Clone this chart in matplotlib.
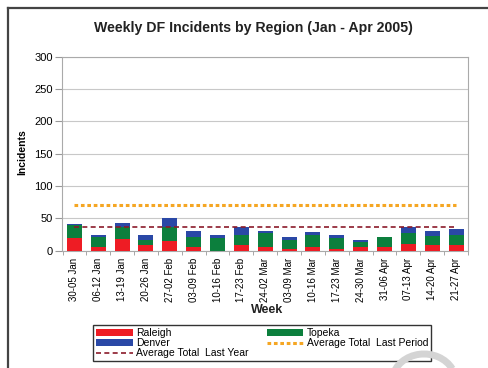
import matplotlib
matplotlib.use("Agg")
import matplotlib.pyplot as plt
import numpy as np
from matplotlib.lines import Line2D
from matplotlib.patches import Arc
from matplotlib.transforms import IdentityTransform

plt.rcParams['font.family'] = ['Liberation Sans', 'DejaVu Sans']

weeks = ['30-05 Jan', '06-12 Jan', '13-19 Jan', '20-26 Jan', '27-02 Feb',
         '03-09 Feb', '10-16 Feb', '17-23 Feb', '24-02 Mar', '03-09 Mar',
         '10-16 Mar', '17-23 Mar', '24-30 Mar', '31-06 Apr', '07-13 Apr',
         '14-20 Apr', '21-27 Apr']
raleigh = [19, 6, 18, 9, 15, 6, 0, 9, 5, 2, 5, 3, 6, 5, 11, 9, 9]
topeka = [20, 15, 18, 8, 22, 15, 19, 15, 23, 15, 19, 16, 7, 16, 16, 14, 15]
denver = [2, 4, 7, 8, 13, 10, 6, 12, 3, 4, 5, 6, 4, 0, 10, 7, 9]
avg_last_period = 70
avg_last_year = 36

RED = '#ee1c24'
GREEN = '#0c7f3d'
BLUE = '#2a48a6'
ORANGE = '#f5a623'
DARK_RED = '#8b1a2a'

W, H = 488, 368
fig = plt.figure(figsize=(W / 100, H / 100), dpi=100)
ax = fig.add_axes([62.5 / W, 1 - 250.7 / H, (468 - 62.5) / W, (250.7 - 56.7) / H])

x = np.arange(len(weeks))
bw = 0.63
r = np.array(raleigh)
t = np.array(topeka)
d = np.array(denver)
ax.bar(x, r, bw, color=RED, label='Raleigh', zorder=3)
ax.bar(x, t, bw, bottom=r, color=GREEN, label='Topeka', zorder=3)
ax.bar(x, d, bw, bottom=r + t, color=BLUE, label='Denver', zorder=3)

ax.plot(x, [avg_last_period] * len(x), color=ORANGE, lw=2.2,
        linestyle=(0, (1.2, 0.9)), label='Average Total  Last Period', zorder=4)
ax.plot(x, [avg_last_year] * len(x), color=DARK_RED, lw=1.2,
        linestyle=(0, (3, 2)), label='Average Total  Last Year', zorder=4)

ax.set_xlim(-0.5, len(weeks) - 0.5)
ax.set_ylim(0, 300)
ax.set_yticks(range(0, 301, 50))
ax.tick_params(axis='y', labelsize=8, length=5, color='#999999', pad=2)
ax.set_xticks(x)
ax.set_xticklabels(weeks, rotation=90, fontsize=7)
ax.tick_params(axis='x', length=0, pad=5)
ax.set_xticks(np.arange(-0.5, len(weeks), 1), minor=True)
ax.tick_params(axis='x', which='minor', length=3, color='#999999')
ax.grid(axis='y', color='#c8c8c8', lw=0.8, zorder=0)
for s in ax.spines.values():
    s.set_color('#aaaaaa')
    s.set_linewidth(0.8)

fig.text(22 / W, 1 - 152 / H, 'Incidents', rotation=90, fontsize=7.5,
         fontweight='bold', ha='center', va='center')
fig.text(267 / W, 1 - 310 / H, 'Week', fontsize=9, fontweight='bold',
         ha='center', va='center', color='#222222')
fig.text(253 / W, 1 - 28 / H, 'Weekly DF Incidents by Region (Jan - Apr 2005)',
         fontsize=10.2, fontweight='bold', ha='center', va='center', color='#222222')

# legend order: column 1 then column 2
handles, labels = ax.get_legend_handles_labels()
lut = dict(zip(labels, handles))
order = ['Raleigh', 'Denver', 'Average Total  Last Year', 'Topeka', 'Average Total  Last Period']
leg = fig.legend([lut[k] for k in order], order, ncol=2, loc='upper left',
                 bbox_to_anchor=(93 / W, 1 - 325 / H), fontsize=7.5,
                 frameon=True, fancybox=False, edgecolor='black',
                 labelspacing=0.0, handlelength=3.5, handleheight=0.55,
                 handletextpad=0.3, borderpad=0.3, columnspacing=1.8,
                 borderaxespad=0)
leg.get_frame().set_linewidth(1.0)

# outer frame lines
fig.add_artist(Line2D([8 / W, 8 / W], [0, 1 - 8 / H], color='#444444', lw=1.6,
                      transform=fig.transFigure))
fig.add_artist(Line2D([8 / W, 1], [1 - 8 / H, 1 - 8 / H], color='#444444', lw=1.6,
                      transform=fig.transFigure))

# faint stamp stroke in the lower right corner (pixel coordinates)
arc = Arc((424, -14), 64, 56, theta1=25, theta2=170, color='#d4d4d4', lw=5,
          transform=IdentityTransform(), zorder=10)
fig.add_artist(arc)

fig.savefig('out.png', dpi=100)
